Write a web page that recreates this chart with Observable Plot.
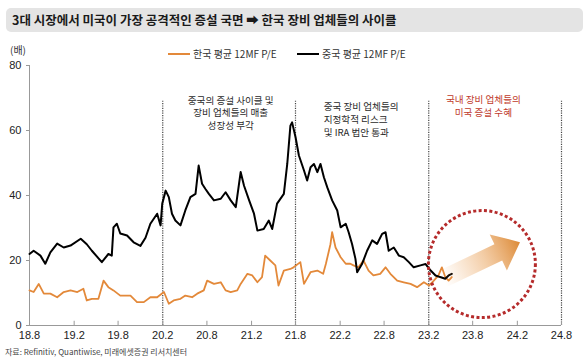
<!DOCTYPE html>
<html><head><meta charset="utf-8">
<script src="https://cdn.jsdelivr.net/npm/d3@7"></script>
<script src="https://cdn.jsdelivr.net/npm/@observablehq/plot@0.6"></script>
<style>
body{margin:0;background:#fff;}
#wrap{position:relative;width:588px;height:360px;font-family:"Noto Sans CJK KR","Noto Sans",sans-serif;color:#222;overflow:hidden;}
#title{position:absolute;left:6px;top:8px;width:571px;height:24px;background:#e4e4e4;border-radius:5px;font-weight:bold;font-size:12.5px;line-height:24px;padding-left:6px;color:#1a1a1a;}
#unit{position:absolute;left:10px;top:42px;font-size:10px;color:#333;}
.leg{position:absolute;top:46px;font-size:10px;color:#333;white-space:nowrap;}
.leg .sw{display:inline-block;width:22px;height:2px;vertical-align:middle;margin-right:3px;position:relative;top:-1px;}
#chart{position:absolute;left:0;top:36px;}
#src{position:absolute;left:5px;top:346px;font-size:8px;color:#444;}
</style></head>
<body>
<div id="wrap">
  <div id="title"></div>
  <div id="unit"></div>
  <div class="leg" id="leg1" style="left:168px"></div>
  <div class="leg" id="leg2" style="left:297px"></div>
  <div id="chart"></div>
  <div id="src"></div>
</div>
<script>
const titleText = "3대 시장에서 미국이 가장 공격적인 증설 국면 ➡ 한국 장비 업체들의 사이클";
const unitText = "(배)";
const seriesNames = ["한국 평균 12MF P/E", "중국 평균 12MF P/E"];
const seriesColors = ["#e3893a", "#000000"];
const sourceText = "자료: Refinitiv, Quantiwise, 미래에셋증권 리서치센터";

const tickDates = ["2018-08-01","2019-02-01","2019-08-01","2020-02-01","2020-08-01","2021-02-01","2021-08-01","2022-02-01","2022-08-01","2023-02-01","2023-08-01","2024-02-01","2024-08-01"];
const tickLabels = ["18.8","19.2","19.8","20.2","20.8","21.2","21.8","22.2","22.8","23.2","23.8","24.2","24.8"];
const phaseDates = ["2020-02-01","2021-08-01","2023-02-01","2024-08-01"];
const yTicks = [0,20,40,60,80];

const chinaDates = ["2018-08-01","2018-08-18","2018-09-15","2018-10-05","2018-10-26","2018-11-23","2018-12-20","2019-01-17","2019-02-28","2019-03-25","2019-04-15","2019-05-26","2019-06-22","2019-07-06","2019-07-13","2019-07-27","2019-08-10","2019-09-07","2019-10-04","2019-11-01","2019-11-22","2019-12-12","2020-01-09","2020-01-23","2020-01-30","2020-02-13","2020-02-26","2020-03-10","2020-03-24","2020-04-14","2020-05-04","2020-05-25","2020-06-15","2020-06-28","2020-07-12","2020-07-26","2020-08-09","2020-08-30","2020-09-27","2020-10-17","2020-11-07","2020-11-28","2020-12-18","2021-01-01","2021-01-22","2021-02-11","2021-02-25","2021-03-23","2021-04-13","2021-04-27","2021-05-17","2021-06-14","2021-06-28","2021-07-11","2021-07-18","2021-08-01","2021-08-15","2021-09-05","2021-09-18","2021-10-02","2021-10-16","2021-10-30","2021-11-12","2021-11-26","2021-12-10","2021-12-30","2022-01-20","2022-02-03","2022-02-24","2022-03-08","2022-03-22","2022-04-05","2022-04-12","2022-05-02","2022-05-23","2022-06-13","2022-07-03","2022-07-24","2022-08-07","2022-08-20","2022-09-10","2022-10-01","2022-10-21","2022-11-11","2022-12-01","2022-12-29","2023-01-19","2023-02-09","2023-03-01","2023-03-20","2023-04-10","2023-04-24","2023-05-07"];
const chinaPE = [22.0,23.0,21.5,19.0,22.5,25.2,24.0,24.6,26.7,25.0,23.0,19.5,22.0,21.5,30.2,31.3,28.3,27.7,25.6,24.5,27.0,31.3,34.4,30.8,37.5,41.5,39.5,34.4,32.3,30.8,35.4,39.5,40.5,49.2,43.6,42.0,40.5,38.5,39.0,41.0,38.5,36.4,47.2,43.0,38.5,34.4,29.2,29.7,32.3,29.7,37.5,40.5,49.7,61.5,62.5,58.0,52.3,47.7,44.6,48.7,49.7,47.2,49.7,45.6,42.5,38.5,35.4,30.2,31.3,28.7,25.1,20.5,16.4,18.9,23.0,26.2,25.1,28.2,28.7,23.0,24.0,21.5,21.0,19.5,17.9,18.5,18.9,16.9,15.4,14.9,14.4,15.4,15.9];

const koreaDates = ["2018-08-01","2018-08-18","2018-09-08","2018-09-29","2018-10-26","2018-11-23","2018-12-20","2019-01-17","2019-02-14","2019-03-11","2019-03-25","2019-04-15","2019-05-12","2019-06-02","2019-06-22","2019-07-13","2019-08-10","2019-09-21","2019-10-18","2019-11-15","2019-12-12","2020-01-09","2020-02-06","2020-02-26","2020-03-17","2020-04-14","2020-05-04","2020-06-01","2020-06-22","2020-07-19","2020-08-02","2020-08-30","2020-09-27","2020-10-17","2020-11-07","2020-12-04","2020-12-18","2021-01-15","2021-02-04","2021-02-25","2021-03-16","2021-03-29","2021-04-19","2021-05-10","2021-05-23","2021-06-14","2021-07-11","2021-07-24","2021-08-21","2021-09-05","2021-10-02","2021-10-30","2021-11-23","2021-12-04","2021-12-23","2021-12-30","2022-01-13","2022-02-03","2022-02-24","2022-03-15","2022-03-28","2022-04-17","2022-05-08","2022-05-29","2022-06-18","2022-07-16","2022-08-07","2022-08-27","2022-09-24","2022-10-21","2022-11-18","2022-12-15","2023-01-12","2023-02-02","2023-02-22","2023-03-13","2023-03-27","2023-04-10","2023-04-24","2023-05-07"];
const koreaPE = [10.8,10.3,12.8,9.8,9.8,8.7,10.3,10.8,10.3,11.3,7.7,8.2,8.2,13.8,11.8,10.8,9.2,9.2,7.2,7.2,8.7,8.7,10.3,6.7,7.7,8.2,9.2,8.7,9.8,10.8,13.8,12.8,13.3,10.8,10.3,10.8,12.8,15.9,15.4,13.3,14.9,21.5,20.0,18.5,12.3,16.9,17.4,17.9,19.5,12.8,16.4,16.9,15.9,18.9,25.0,28.7,24.0,21.0,19.0,19.0,18.5,17.9,20.0,16.9,15.4,15.9,17.9,15.9,13.8,13.3,12.8,11.8,13.3,12.3,13.8,15.4,17.9,14.9,13.8,14.9];

const notes = ["중국의 증설 사이클 및\n장비 업체들의 매출\n성장성 부각", "중국 장비 업체들의\n지정학적 리스크\n및 IRA 법안 통과", "국내 장비 업체들의\n미국 증설 수혜"];

document.getElementById("title").textContent = titleText;
document.getElementById("unit").textContent = unitText;
document.getElementById("src").textContent = sourceText;
document.getElementById("leg1").innerHTML = `<span class="sw" style="background:${seriesColors[0]}"></span>${seriesNames[0]}`;
document.getElementById("leg2").innerHTML = `<span class="sw" style="background:${seriesColors[1]}"></span>${seriesNames[1]}`;

const parse = d3.utcParse("%Y-%m-%d");
const korea = koreaDates.map((d, i) => ({date: parse(d), v: koreaPE[i]}));
const china = chinaDates.map((d, i) => ({date: parse(d), v: chinaPE[i]}));
const ticks = tickDates.map(parse);
const xStart = ticks[0], xEnd = ticks[ticks.length - 1];
const fmt = d => tickLabels[ticks.findIndex(t => +t === +d)];

const arrowFrom = {date: parse("2023-04-02"), v: 14.2};
const arrowTo = {date: parse("2024-02-14"), v: 25.5};

function arrowMark(index, scales) {
  const x0 = scales.x(arrowFrom.date), y0 = scales.y(arrowFrom.v);
  const x1 = scales.x(arrowTo.date), y1 = scales.y(arrowTo.v);
  const dx = x1 - x0, dy = y1 - y0, len = Math.hypot(dx, dy);
  const ux = dx / len, uy = dy / len, nx = -uy, ny = ux;
  const w = 9, H = 20, L = 24;
  const bx = x1 - ux * L, by = y1 - uy * L;
  const pts = [
    [x0 + nx * w, y0 + ny * w], [bx + nx * w, by + ny * w], [bx + nx * H, by + ny * H],
    [x1, y1], [bx - nx * H, by - ny * H], [bx - nx * w, by - ny * w], [x0 - nx * w, y0 - ny * w]
  ];
  const g = d3.create("svg:g");
  const grad = g.append("defs").append("linearGradient")
    .attr("id", "arrowGrad").attr("gradientUnits", "userSpaceOnUse")
    .attr("x1", x0).attr("y1", y0).attr("x2", x1).attr("y2", y1);
  grad.append("stop").attr("offset", "0").attr("stop-color", "#f0b070").attr("stop-opacity", 0);
  grad.append("stop").attr("offset", "0.55").attr("stop-color", "#e9a35c").attr("stop-opacity", 0.55);
  grad.append("stop").attr("offset", "1").attr("stop-color", "#dc8a37").attr("stop-opacity", 1);
  g.append("polygon").attr("points", pts.map(p => p.join(",")).join(" ")).attr("fill", "url(#arrowGrad)");
  return g.node();
}

const noteFont = "'Noto Sans CJK KR', sans-serif";
const chart = Plot.plot({
  width: 588, height: 310,
  marginLeft: 29, marginRight: 27, marginTop: 29, marginBottom: 21,
  style: {fontFamily: "'Liberation Sans', Arial, sans-serif", fontSize: "11px", color: "#222", background: "transparent", overflow: "visible"},
  x: {type: "utc", domain: [xStart, xEnd]},
  y: {domain: [0, 80]},
  marks: [
    Plot.ruleX(phaseDates.map(parse), {y1: 0, y2: 69, stroke: "#444", strokeWidth: 1.2, strokeDasharray: "1.2,1.2"}),
    Plot.ruleX(ticks, {y1: 0, y2: 1.3, stroke: "#999"}),
    Plot.ruleY([0], {stroke: "#999"}),
    Plot.ruleX([xStart], {stroke: "#999"}),
    Plot.axisX({ticks: ticks, tickFormat: fmt, tickSize: 0, tickPadding: 6, label: null}),
    Plot.axisY({ticks: yTicks, tickSize: 3, tickPadding: 5, label: null, stroke: "#999"}),
    Plot.lineY(korea, {x: "date", y: "v", stroke: seriesColors[0], strokeWidth: 1.8}),
    Plot.lineY(china, {x: "date", y: "v", stroke: seriesColors[1], strokeWidth: 2}),
    Plot.dot([{date: parse("2023-09-08"), v: 18.9}], {x: "date", y: "v", r: 53.5, fill: "none", stroke: "#b52b2b", strokeWidth: 3, strokeDasharray: "3,2.4"}),
    arrowMark,
    Plot.text([notes[0]], {x: parse("2020-11-07"), y: 71, text: d => d, lineAnchor: "top", textAnchor: "middle", fontSize: 9.6, lineHeight: 1.32, fill: "#2a2a2a", fontFamily: noteFont}),
    Plot.text([notes[1]], {x: parse("2021-11-25"), y: 69.3, text: d => d, lineAnchor: "top", textAnchor: "start", fontSize: 9.6, lineHeight: 1.36, fill: "#2a2a2a", fontFamily: noteFont}),
    Plot.text([notes[2]], {x: parse("2023-09-14"), y: 71.5, text: d => d, lineAnchor: "top", textAnchor: "middle", fontSize: 9.6, lineHeight: 1.42, fill: "#c0392b", fontFamily: noteFont})
  ]
});
document.getElementById("chart").appendChild(chart);
</script>
</body></html>
